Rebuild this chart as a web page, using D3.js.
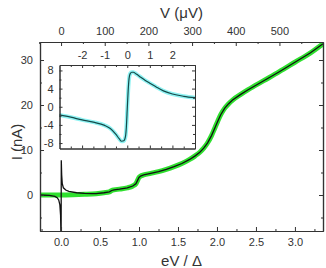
<!DOCTYPE html>
<html>
<head>
<meta charset="utf-8">
<script src="https://cdn.jsdelivr.net/npm/d3@7"></script>
<style>
  body { margin: 0; background: #fff; }
  text { font-family: "Liberation Sans", Arial, sans-serif; fill: #333; }
  .axis path, .axis line { stroke: #333; }
  .axis text { font-size: 11px; }
</style>
</head>
<body>
<div id="chart-area"></div>
<script>
    // main curve (green), eV/Delta vs I (nA)
    var mainEV = [-0.27, -0.15, 0, 0.15, 0.3, 0.45, 0.55, 0.62, 0.65, 0.68, 0.75, 0.85, 0.92, 0.96, 0.98, 1.0, 1.02, 1.06, 1.15, 1.25, 1.35, 1.45, 1.55, 1.65, 1.72, 1.78, 1.83, 1.88, 1.93, 1.97, 2.01, 2.05, 2.1, 2.15, 2.2, 2.3, 2.4, 2.6, 2.8, 3.0, 3.2, 3.36];
    var mainI  = [0, 0, 0, 0.05, 0.15, 0.3, 0.5, 0.7, 1.0, 1.15, 1.3, 1.6, 2.0, 2.5, 3.2, 3.9, 4.2, 4.45, 4.8, 5.2, 5.7, 6.3, 7.0, 7.9, 8.7, 9.5, 10.4, 11.6, 13.2, 14.8, 16.4, 17.9, 19.3, 20.3, 21.1, 22.3, 23.4, 25.4, 27.4, 29.5, 31.6, 33.6];

    // black curve near zero bias (joins the main curve above 0.4)
    var lowEV = [-0.27, -0.15, -0.08, -0.05, -0.03, -0.015, -0.006, -0.001, 0.001, 0.003, 0.008, 0.015, 0.03, 0.06, 0.1, 0.2, 0.3, 0.4];
    var lowI  = [0, -0.1, -0.3, -0.6, -1.1, -2.2, -4.5, -9, -9, 7.7, 4.5, 2.6, 1.6, 1.1, 0.8, 0.5, 0.35, 0.3];

    // inset curve
    var insetX = [-3, -2.5, -2, -1.5, -1, -0.75, -0.5, -0.35, -0.25, -0.15, -0.08, -0.04, 0, 0.04, 0.08, 0.13, 0.2, 0.27, 0.4, 0.6, 0.8, 1.0, 1.3, 1.6, 2.0, 2.5, 3.0];
    var insetY = [-1.8, -2.3, -2.9, -3.4, -4.1, -4.8, -6.1, -7.1, -7.6, -7.5, -6.6, -4.5, -0.5, 3.5, 6.2, 7.3, 7.6, 7.6, 7.2, 6.5, 5.8, 5.2, 4.3, 3.5, 2.8, 2.3, 2.0];

    var gapUeV = 178.5;

    var pL = 40, pR = 323, pT = 42, pB = 231;

    var svg = d3.select('#chart-area')
        .append('svg')
        .attr('width', 326)
        .attr('height', 268);

    var xScale = d3.scaleLinear().domain([-0.27, 3.36]).range([pL, pR]);
    var vScale = d3.scaleLinear().domain([-0.27 * gapUeV, 3.36 * gapUeV]).range([pL, pR]);
    var yScale = d3.scaleLinear().domain([-8, 34]).range([pB, pT]);

    svg.append('clipPath').attr('id', 'clip')
        .append('rect').attr('x', pL).attr('y', pT).attr('width', pR - pL).attr('height', pB - pT);

    var line = d3.line().x(d => xScale(d[0])).y(d => yScale(d[1])).curve(d3.curveMonotoneX);

    var green = mainEV.map((e, i) => [e, mainI[i]]);
    var black = lowEV.map((e, i) => [e, lowI[i]])
        .concat(green.filter(d => d[0] > 0.42));

    var plot = svg.append('g').attr('clip-path', 'url(#clip)');
    plot.append('path').datum(green)
        .attr('d', line).attr('fill', 'none')
        .attr('stroke', '#2fe02f').attr('stroke-width', 5);
    plot.append('path').datum(black)
        .attr('d', d3.line().x(d => xScale(d[0])).y(d => yScale(d[1])))
        .attr('fill', 'none')
        .attr('stroke', '#111').attr('stroke-width', 1.3);

    // axes with inward ticks
    function axisPair(g, axisFn, scale, major, minor, fmt, len) {
        g.call(axisFn(scale).tickValues(minor).tickSizeInner(-2).tickSizeOuter(0).tickFormat(''));
        g.append('g').call(axisFn(scale).tickValues(major).tickSizeInner(-len).tickSizeOuter(0).tickPadding(len + 3).tickFormat(fmt));
    }

    var gb = svg.append('g').attr('class', 'axis').attr('transform', `translate(0,${pB})`);
    axisPair(gb, d3.axisBottom, xScale, [0, 0.5, 1, 1.5, 2, 2.5, 3], [-0.25, 0.25, 0.75, 1.25, 1.75, 2.25, 2.75, 3.25], d3.format('.1f'), 4);

    var gt = svg.append('g').attr('class', 'axis').attr('transform', `translate(0,${pT})`);
    axisPair(gt, d3.axisTop, vScale, [0, 100, 200, 300, 400, 500], [-50, 50, 150, 250, 350, 450, 550], d3.format('d'), 4);

    var gl = svg.append('g').attr('class', 'axis').attr('transform', `translate(${pL},0)`);
    axisPair(gl, d3.axisLeft, yScale, [0, 10, 20, 30], [-5, 5, 15, 25], d3.format('d'), 4);

    var gr = svg.append('g').attr('class', 'axis').attr('transform', `translate(${pR},0)`);
    axisPair(gr, d3.axisRight, yScale, [0, 10, 20, 30], [-5, 5, 15, 25], '', 4);

    svg.selectAll('.axis path.domain').attr('stroke-width', 1.2);

    svg.append('text').attr('x', (pL + pR) / 2).attr('y', 266)
        .attr('text-anchor', 'middle').attr('font-size', '15px').text('eV / Δ');
    svg.append('text').attr('x', (pL + pR) / 2).attr('y', 18)
        .attr('text-anchor', 'middle').attr('font-size', '15px').text('V (μV)');
    svg.append('text').attr('transform', 'rotate(-90)')
        .attr('x', -142).attr('y', 22)
        .attr('text-anchor', 'middle').attr('font-size', '15px').text('I (nA)');

    // inset
    var iL = 59.5, iR = 195, iT = 65, iB = 148.5;
    var ix = d3.scaleLinear().domain([-3, 3]).range([iL, iR]);
    var iy = d3.scaleLinear().domain([-9.2, 9.2]).range([iB, iT]);

    var inset = svg.append('g').attr('class', 'inset');
    inset.append('rect').attr('x', iL).attr('y', iT)
        .attr('width', iR - iL).attr('height', iB - iT)
        .attr('fill', '#fff');

    var insetData = insetX.map((x, i) => [x, insetY[i]]);
    var iline = d3.line().x(d => ix(d[0])).y(d => iy(d[1])).curve(d3.curveMonotoneX);
    inset.append('path').datum(insetData).attr('d', iline).attr('fill', 'none')
        .attr('stroke', '#8ff3f3').attr('stroke-width', 4);
    inset.append('path').datum(insetData).attr('d', iline).attr('fill', 'none')
        .attr('stroke', '#164a4a').attr('stroke-width', 1.2);

    var xMaj = [-2, -1, 0, 1, 2], xMin = [-2.5, -1.5, -0.5, 0.5, 1.5, 2.5];
    var yMaj = [-8, -4, 0, 4, 8], yMin = [-6, -2, 2, 6];

    var ib = inset.append('g').attr('class', 'axis').attr('transform', `translate(0,${iB})`);
    axisPair(ib, d3.axisBottom, ix, xMaj, xMin, '', 3);
    var it = inset.append('g').attr('class', 'axis').attr('transform', `translate(0,${iT})`);
    axisPair(it, d3.axisTop, ix, xMaj, xMin, d3.format('d'), 3);
    var il = inset.append('g').attr('class', 'axis').attr('transform', `translate(${iL},0)`);
    axisPair(il, d3.axisLeft, iy, yMaj, yMin, d3.format('d'), 3);
    var ir = inset.append('g').attr('class', 'axis').attr('transform', `translate(${iR},0)`);
    axisPair(ir, d3.axisRight, iy, yMaj, yMin, '', 3);

    inset.selectAll('.domain').attr('stroke', '#222');
    inset.selectAll('.tick text').attr('font-size', '9px').each(function() {
        var t = d3.select(this);
        t.text(t.text().replace('−', '-'));
    });
</script>
</body>
</html>
